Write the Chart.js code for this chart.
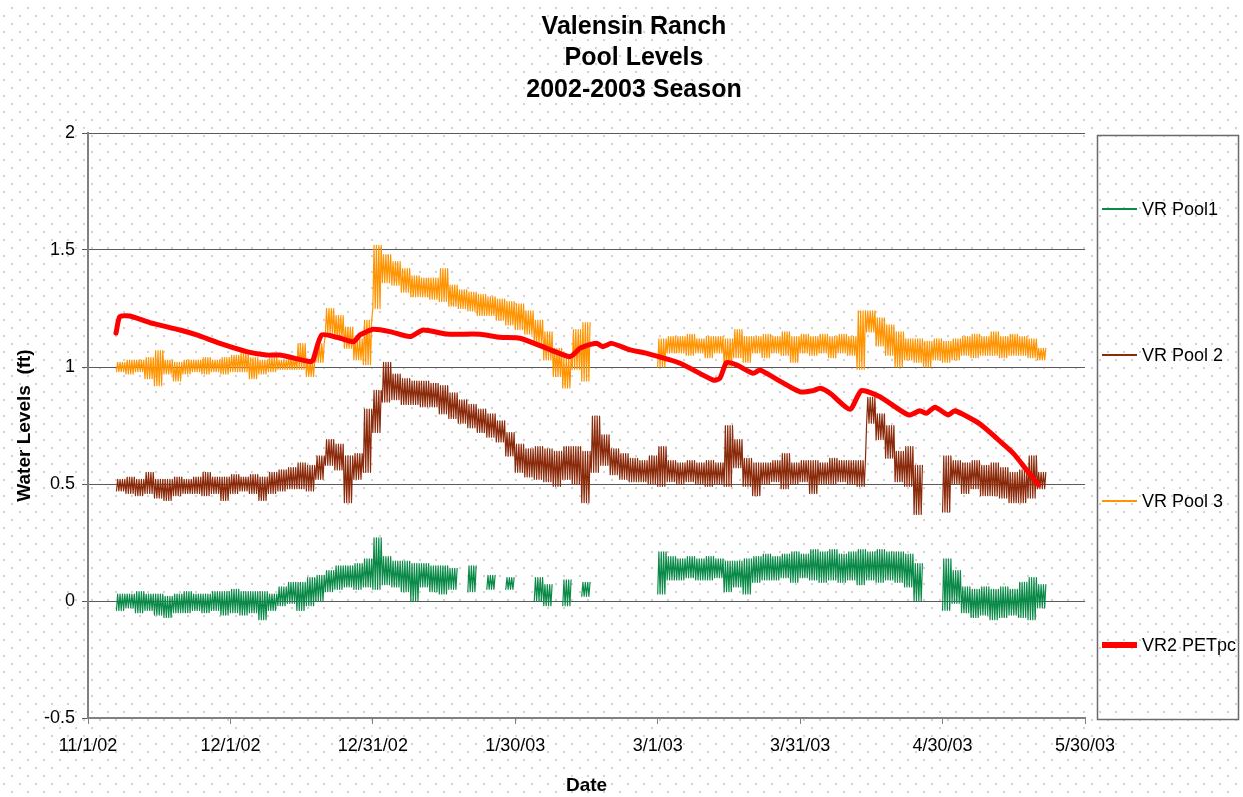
<!DOCTYPE html>
<html lang="en">
<head>
    <meta charset="UTF-8">
    <title>Valensin Ranch Pool Levels</title>
    <script src="https://cdn.jsdelivr.net/npm/chart.js"></script>
    <style>
        html, body { margin: 0; padding: 0; background: #fff; overflow: hidden; }
        canvas { display: block; }
    </style>
</head>
<body>
    <canvas id="poolChart" width="1243" height="797"></canvas>
    <script>
        // x axis: days since 11/1/02, one label every 30 days
        var tickLabels = ['11/1/02', '12/1/02', '12/31/02', '1/30/03', '3/1/03', '3/31/03', '4/30/03', '5/30/03'];
        var seriesNames = ['VR Pool1', 'VR Pool 2', 'VR Pool 3', 'VR2 PETpc'];
        var titleLines = ['Valensin Ranch', 'Pool Levels', '2002-2003 Season'];

        // logger readings, read off as low / high of each 2-day block starting at day 6 (null = no data)
        var bandStartDay = 6;

        var pool1Low = [
            -0.04, -0.03, -0.05, -0.04, -0.06, -0.07, -0.05, -0.05, -0.04, -0.05,
            -0.04, -0.06, -0.05, -0.06, -0.05, -0.08, -0.04, -0.02, -0.01, -0.04,
            -0.02, 0.00, 0.04, 0.05, 0.06, 0.05, 0.06, 0.05, 0.07, 0.06,
            0.04, 0.00, 0.06, 0.04, 0.03, 0.05, null, 0.04, null, 0.05,
            null, 0.05, null, null, 0.00, -0.02, null, -0.02, null, 0.02,
            null, null, null, null, null, null, null, 0.03, 0.09, 0.09,
            0.10, 0.09, 0.09, 0.10, 0.04, 0.06, 0.03, 0.08, 0.09, 0.09,
            0.10, 0.08, 0.10, 0.09, 0.08, 0.09, 0.08, 0.09, 0.07, 0.09,
            0.08, 0.09, 0.08, 0.06, 0.00, null, null, -0.04, -0.01, -0.05,
            -0.07, -0.06, -0.08, -0.07, -0.06, -0.07, -0.08, -0.03
        ];
        var pool1High = [
            0.03, 0.03, 0.04, 0.03, 0.03, 0.02, 0.03, 0.04, 0.03, 0.03,
            0.04, 0.04, 0.05, 0.04, 0.04, 0.04, 0.03, 0.06, 0.08, 0.08,
            0.10, 0.11, 0.13, 0.15, 0.15, 0.16, 0.18, 0.27, 0.19, 0.17,
            0.17, 0.16, 0.16, 0.15, 0.15, 0.14, null, 0.15, null, 0.11,
            null, 0.10, null, null, 0.10, 0.07, null, 0.09, null, 0.08,
            null, null, null, null, null, null, null, 0.21, 0.19, 0.18,
            0.19, 0.18, 0.19, 0.18, 0.17, 0.17, 0.18, 0.19, 0.20, 0.19,
            0.20, 0.21, 0.20, 0.22, 0.21, 0.22, 0.20, 0.21, 0.22, 0.21,
            0.22, 0.21, 0.21, 0.20, 0.16, null, null, 0.18, 0.13, 0.06,
            0.05, 0.06, 0.05, 0.06, 0.05, 0.08, 0.10, 0.07
        ];

        var pool2Low = [
            0.47, 0.46, 0.45, 0.46, 0.44, 0.43, 0.45, 0.46, 0.46, 0.45,
            0.46, 0.43, 0.46, 0.47, 0.46, 0.43, 0.46, 0.47, 0.48, 0.48,
            0.47, 0.52, 0.58, 0.56, 0.42, 0.52, 0.55, 0.72, 0.85, 0.86,
            0.84, 0.84, 0.83, 0.83, 0.80, 0.78, 0.76, 0.74, 0.72, 0.70,
            0.68, 0.62, 0.55, 0.53, 0.52, 0.51, 0.49, 0.52, 0.50, 0.42,
            0.55, 0.58, 0.54, 0.52, 0.51, 0.51, 0.50, 0.49, 0.51, 0.50,
            0.51, 0.50, 0.49, 0.50, 0.49, 0.57, 0.49, 0.45, 0.50, 0.51,
            0.48, 0.50, 0.51, 0.46, 0.50, 0.50, 0.51, 0.50, 0.49, 0.76,
            0.69, 0.61, 0.51, 0.49, 0.37, null, null, 0.38, 0.50, 0.46,
            0.48, 0.45, 0.45, 0.44, 0.42, 0.42, 0.44, 0.48
        ];
        var pool2High = [
            0.52, 0.53, 0.52, 0.55, 0.52, 0.52, 0.53, 0.52, 0.53, 0.55,
            0.53, 0.53, 0.54, 0.53, 0.54, 0.53, 0.55, 0.56, 0.57, 0.59,
            0.58, 0.62, 0.69, 0.67, 0.62, 0.63, 0.82, 0.90, 1.02, 0.97,
            0.95, 0.94, 0.94, 0.93, 0.92, 0.89, 0.86, 0.84, 0.82, 0.80,
            0.77, 0.72, 0.67, 0.65, 0.66, 0.65, 0.64, 0.66, 0.66, 0.64,
            0.79, 0.71, 0.65, 0.63, 0.61, 0.60, 0.62, 0.66, 0.60, 0.59,
            0.60, 0.59, 0.60, 0.59, 0.75, 0.69, 0.61, 0.59, 0.59, 0.60,
            0.63, 0.59, 0.60, 0.60, 0.59, 0.61, 0.60, 0.60, 0.60, 0.87,
            0.80, 0.75, 0.64, 0.66, 0.58, null, null, 0.62, 0.60, 0.59,
            0.60, 0.58, 0.59, 0.57, 0.55, 0.56, 0.62, 0.55
        ];

        var pool3Low = [
            0.98, 0.97, 0.98, 0.95, 0.92, 0.97, 0.94, 0.97, 0.98, 0.97,
            0.98, 0.97, 0.98, 0.98, 0.95, 0.97, 0.98, 0.99, 0.99, 0.99,
            0.96, 1.02, 1.14, 1.12, 1.08, 1.03, 1.01, 1.25, 1.36, 1.35,
            1.32, 1.30, 1.30, 1.29, 1.28, 1.26, 1.25, 1.24, 1.22, 1.22,
            1.20, 1.18, 1.16, 1.14, 1.10, 1.03, 0.96, 0.91, 0.99, 0.94,
            null, null, null, null, null, null, null, 1.00, 1.06, 1.06,
            1.05, 1.06, 1.04, 1.06, 1.00, 1.04, 1.02, 1.06, 1.04, 1.06,
            1.05, 1.02, 1.06, 1.05, 1.06, 1.04, 1.06, 1.05, 0.99, 1.15,
            1.09, 1.05, 1.00, 1.03, 1.02, 1.00, 1.03, 1.02, 1.03, 1.05,
            1.04, 1.05, 1.05, 1.04, 1.05, 1.05, 1.04, 1.03
        ];
        var pool3High = [
            1.02, 1.03, 1.03, 1.04, 1.07, 1.03, 1.02, 1.03, 1.03, 1.04,
            1.03, 1.04, 1.05, 1.06, 1.04, 1.03, 1.04, 1.03, 1.04, 1.10,
            1.03, 1.10, 1.25, 1.22, 1.17, 1.12, 1.20, 1.52, 1.48, 1.45,
            1.42, 1.39, 1.38, 1.38, 1.42, 1.35, 1.33, 1.32, 1.31, 1.30,
            1.29, 1.28, 1.27, 1.24, 1.20, 1.15, 1.08, 1.04, 1.16, 1.19,
            null, null, null, null, null, null, null, 1.12, 1.13, 1.13,
            1.14, 1.12, 1.13, 1.13, 1.12, 1.16, 1.13, 1.13, 1.14, 1.13,
            1.15, 1.13, 1.14, 1.13, 1.14, 1.13, 1.14, 1.13, 1.24, 1.24,
            1.21, 1.18, 1.15, 1.12, 1.12, 1.11, 1.12, 1.11, 1.12, 1.13,
            1.14, 1.13, 1.15, 1.13, 1.14, 1.13, 1.12, 1.08
        ];

        // PET curve: day / level pairs
        var petDays = [5.9, 6.7, 8.8, 13, 19.4, 22.9, 27.8, 33.4, 37.6, 40.4,
            46.8, 47.4, 49.2, 52.4, 55.9, 57.3, 60.1, 63.6, 67.8, 70.6,
            75.5, 82.6, 86.8, 91, 96.6, 101.5, 102.9, 103.6, 107.1, 108.5,
            110.3, 114.2, 117.7, 124.7, 131.7, 133.1, 134.5, 136.6, 140.1, 141.5,
            142.9, 150, 152.8, 154.2, 156.3, 160.5, 162.9, 166.8, 172.8, 175.2,
            176.6, 178.4, 181.2, 182.6, 187.9, 191.4, 194.9, 197.7, 200.2];
        var petLevels = [1.145, 1.215, 1.218, 1.19, 1.158, 1.137, 1.101, 1.066, 1.051, 1.051,
            1.023, 1.03, 1.137, 1.127, 1.108, 1.137, 1.161, 1.151, 1.13, 1.158,
            1.141, 1.14, 1.127, 1.123, 1.08, 1.044, 1.066, 1.08, 1.101, 1.087,
            1.101, 1.073, 1.058, 1.016, 0.944, 0.952, 1.019, 1.009, 0.973, 0.987,
            0.973, 0.894, 0.899, 0.909, 0.888, 0.819, 0.899, 0.873, 0.795, 0.813,
            0.802, 0.828, 0.795, 0.813, 0.756, 0.695, 0.631, 0.56, 0.496];

        var colors = ['#0a8a48', '#8b2a0a', '#ff9400', '#ff0000'];
        var fontFamily = "'Liberation Sans', Arial, sans-serif";

        // each block is drawn as the low/high swing seen in the logger trace
        function bandPoints(low, high) {
            var pts = [];
            low.forEach(function (lo, i) {
                var d = bandStartDay + 2 * i;
                if (lo === null) { pts.push({ x: d, y: null }); return; }
                var hi = high[i];
                for (var j = 0; j < 8; j++) {
                    pts.push({ x: d + j * 0.25, y: j % 2 ? hi : lo });
                }
            });
            return pts;
        }

        var petPoints = petDays.map(function (d, i) { return { x: d, y: petLevels[i] }; });

        // dotted paper background
        var backgroundPlugin = {
            id: 'dottedBackground',
            beforeDraw: function (chart) {
                var c = chart.ctx;
                c.save();
                c.fillStyle = '#ffffff';
                c.fillRect(0, 0, chart.width, chart.height);
                c.fillStyle = '#d2d2d2';
                for (var y = 7; y < chart.height; y += 8) {
                    var off = (y % 16 === 15) ? 3 : 11;
                    for (var x = off; x < chart.width; x += 16) c.fillRect(x, y, 2, 2);
                }
                c.restore();
            }
        };

        // title and boxed legend on the right
        var titleLegendPlugin = {
            id: 'titleLegend',
            afterDraw: function (chart) {
                var c = chart.ctx;
                c.save();
                c.fillStyle = '#000';
                c.textAlign = 'center';
                c.textBaseline = 'middle';
                c.font = 'bold 25px ' + fontFamily;
                titleLines.forEach(function (t, i) { c.fillText(t, 634, 27 + i * 31.5); });

                c.strokeStyle = '#6a6a6a';
                c.lineWidth = 1.5;
                c.strokeRect(1097.5, 135.5, 141, 584);

                var rows = [209, 355, 501, 645];
                var widths = [2, 2, 2, 6];
                c.textAlign = 'left';
                c.font = '18px ' + fontFamily;
                seriesNames.forEach(function (name, i) {
                    c.strokeStyle = colors[i];
                    c.lineWidth = widths[i];
                    c.beginPath();
                    c.moveTo(1102, rows[i]);
                    c.lineTo(1137, rows[i]);
                    c.stroke();
                    c.fillStyle = '#000';
                    c.fillText(name, 1142, rows[i] + 1);
                });
                c.restore();
            }
        };

        var ctx = document.getElementById('poolChart').getContext('2d');
        var poolChart = new Chart(ctx, {
            type: 'line',
            data: {
                datasets: [
                    { label: seriesNames[3], data: petPoints, borderColor: colors[3], borderWidth: 5, tension: 0.2, order: 0 },
                    { label: seriesNames[2], data: bandPoints(pool3Low, pool3High), borderColor: colors[2], borderWidth: 1.2, order: 1 },
                    { label: seriesNames[1], data: bandPoints(pool2Low, pool2High), borderColor: colors[1], borderWidth: 1.2, order: 2 },
                    { label: seriesNames[0], data: bandPoints(pool1Low, pool1High), borderColor: colors[0], borderWidth: 1.2, order: 3 }
                ]
            },
            options: {
                responsive: false,
                animation: false,
                devicePixelRatio: 1,
                spanGaps: false,
                layout: { padding: { top: 133, right: 158, left: 0, bottom: 0 } },
                elements: { point: { radius: 0 }, line: { borderCapStyle: 'round', borderJoinStyle: 'round' } },
                plugins: {
                    legend: { display: false },
                    title: { display: false },
                    tooltip: { enabled: false }
                },
                scales: {
                    x: {
                        type: 'linear',
                        min: 0,
                        max: 210,
                        afterFit: function (s) { s.height = 79; },
                        ticks: {
                            stepSize: 30,
                            autoSkip: false,
                            maxRotation: 0,
                            padding: 11,
                            color: '#000',
                            font: { family: fontFamily, size: 18 },
                            callback: function (v) { return tickLabels[Math.round(v / 30)]; }
                        },
                        grid: { drawOnChartArea: false, drawTicks: true, tickLength: 6, color: '#808080' },
                        border: { color: '#808080', width: 2 },
                        title: {
                            display: true,
                            text: 'Date',
                            color: '#000',
                            font: { family: fontFamily, size: 19, weight: 'bold' },
                            padding: { top: 0, bottom: 0 }
                        }
                    },
                    y: {
                        min: -0.5,
                        max: 2,
                        afterFit: function (s) { s.width = 88; },
                        ticks: {
                            stepSize: 0.5,
                            padding: 7,
                            color: '#000',
                            font: { family: fontFamily, size: 18 },
                            callback: function (v) { return String(Math.round(v * 10) / 10); }
                        },
                        grid: { color: '#5a5a5a', lineWidth: 1, tickLength: 6 },
                        border: { color: '#808080', width: 2 },
                        title: {
                            display: true,
                            text: 'Water Levels  (ft)',
                            color: '#000',
                            font: { family: fontFamily, size: 19, weight: 'bold' },
                            padding: { top: 13, bottom: 0 }
                        }
                    }
                }
            },
            plugins: [backgroundPlugin, titleLegendPlugin]
        });
    </script>
</body>
</html>
